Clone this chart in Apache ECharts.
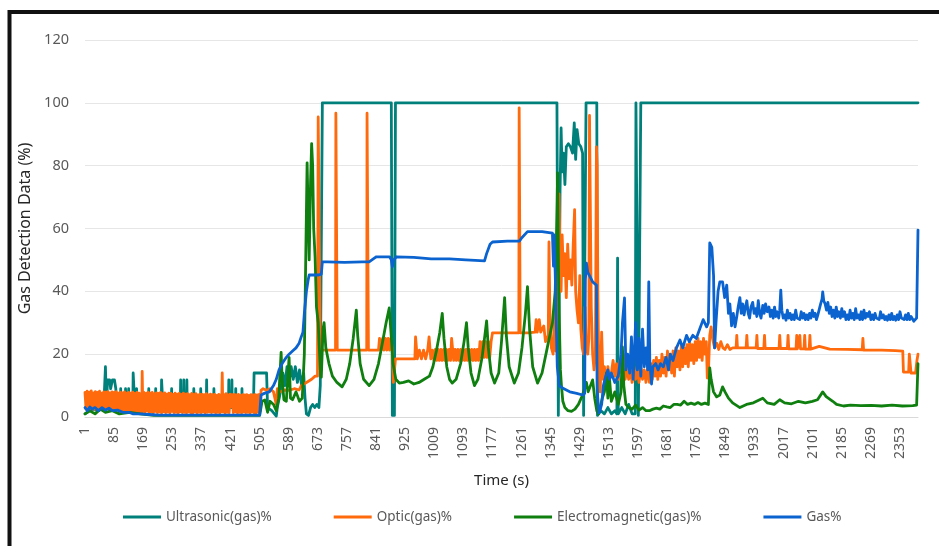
<!DOCTYPE html>
<html>
<head>
<meta charset="utf-8">
<script src="https://cdn.jsdelivr.net/npm/echarts@6/dist/echarts.min.js"></script>
<style>html,body{margin:0;padding:0;background:#fff}#chart{width:939px;height:546px}</style>
</head>
<body>
<div id="chart"></div>
<script>
const timeStart = 1;
const timeEnd = 2405;
const tickLabels = ['1','85','169','253','337','421','505','589','673','757','841','925','1009','1093','1177','1261','1345','1429','1513','1597','1681','1765','1849','1933','2017','2101','2185','2269','2353'];
const seriesNames = ['Ultrasonic(gas)%','Optic(gas)%','Electromagnetic(gas)%','Gas%'];

// [time (s), value %]
const ultrasonic = [
[1,1],[20,2.5],[40,2],[55,3],[59,3],[60,16],[62,16],[63,3],[65,3],[66,11.8],[72,11.8],[75,9],[80,11.8],[86,11.8],[90,9],[92,3],[103,3],[104,9],[105,3],[117,3],[118,9],[119,3],[126,3],[127,9],[128,3],[139,3],[140,14],[144,14],[145,3],[149,3],[150,9],[151,3],[184,3],[185,9],[186,3],[204,3],[205,9],[206,3],[221,3],[222,11.8],[225,11.8],[226,3],[250,3],[251,9],[252,3],[276,3],[277,11.8],[278,3],[285,3],[286,11.8],[287,3],[294,3],[295,11.8],[296,3],[314,3],[315,9],[316,3],[334,3],[335,9],[336,3],[351,3],[352,11.8],[353,3],[372,3],[373,9],[374,3],[415,3],[416,11.8],[417,3],[424,3],[425,11.8],[426,3],[435,3],[436,9],[437,3],[453,3],[454,9],[455,3],[470,2],[487,3],[489,14],[525,14],[528,3],[540,2],[553,0.3],[556,3],[565,8],[572,14],[578,10],[584,16],[590,11],[596,16],[602,12],[608,16],[614,11],[620,15],[626,10],[632,14],[636,6],[640,1],[646,0.5],[652,3],[658,4],[664,3],[670,4],[676,3],[680,10],[684,10],[686,100],
[885,100],[888,0.5],[894,0.5],[897,100],
[1363,100],[1365,100],[1367,0.5],[1370,0.5],[1372,72],[1375,92],[1378,78],[1382,84],[1386,74],[1390,86],[1396,87],[1402,86],[1408,84],[1413,93.6],[1417,82],[1421,91.5],[1426,87],[1432,86],[1437,84],[1440,0.5],[1444,0.5],[1447,100],[1478,100],[1480,0.5],
[1490,2],[1500,1],[1510,3],[1520,1],[1530,2],[1536,1],[1538,50.6],[1540,1],[1550,3],[1560,1],[1570,4],[1580,1],[1589,1],[1591,100],[1595,100],[1598,0.5],[1602,0.5],[1605,100],[2405,100]
];

const optic = [
[1,7.8],[4,2.5],[7,8.2],[10,3.0],[13,7.9],[16,2.2],[19,8.3],[22,2.8],[25,7.7],[28,2.4],[31,8.1],[34,3.1],[37,7.8],[40,2.3],[43,8.2],[46,2.9],[49,7.6],[52,2.5],[55,8.0],[58,2.2],[61,7.9],[64,2.7],[67,8.1],[70,2.4],[73,7.7],[76,2.0],[79,8.0],[82,2.6],[85,7.8],[88,1.9],[91,8.1],[94,2.3],[97,7.6],[100,1.8],[103,7.9],[106,2.2],[109,7.7],[112,1.7],[115,8.0],[118,2.0],[121,7.6],[124,1.6],[127,7.8],[130,1.8],[133,7.6],[136,1.5],[139,7.9],[142,1.9],[145,7.5],[148,1.6],[151,7.8],[154,1.4],[157,7.6],[160,1.7],[163,7.4],[165,1.6],[166,14.5],[168,1.8],[171,7.8],[174,1.5],[177,7.5],[180,1.9],[183,7.9],[186,1.4],[189,7.6],[192,1.7],[195,7.8],[198,1.3],[201,7.4],[204,1.8],[207,7.7],[210,1.4],[213,7.5],[216,1.6],[219,7.8],[222,1.3],[225,7.4],[228,1.7],[231,7.7],[234,1.4],[237,7.3],[240,1.6],[243,7.6],[246,1.3],[249,7.5],[252,1.8],[255,7.2],[258,1.4],[261,7.6],[264,1.5],[267,7.3],[270,1.3],[273,7.5],[276,1.7],[279,7.2],[282,1.4],[285,7.6],[288,1.5],[291,7.3],[294,1.3],[297,7.4],[300,1.6],[303,7.1],[306,1.4],[309,7.5],[312,1.3],[315,7.2],[318,1.6],[321,7.4],[324,1.3],[327,7.0],[330,1.5],[333,7.3],[336,1.4],[339,7.2],[342,1.6],[345,7.1],[348,1.3],[351,7.4],[354,1.5],[357,7.0],[360,1.6],[363,7.3],[366,1.4],[369,7.1],[372,1.6],[375,7.2],[378,1.3],[381,6.9],[384,1.5],[387,7.2],[390,1.3],[393,7.0],[395,1.6],[397,14.0],[399,1.6],[402,7.1],[405,1.3],[408,7.4],[411,1.5],[414,7.0],[417,1.4],[420,7.3],[423,3.2],[426,7.1],[429,1.4],[432,7.2],[435,1.6],[438,7.0],[441,1.3],[444,7.2],[447,1.5],[450,6.9],[453,1.3],[456,7.1],[459,1.6],[462,7.0],[465,1.4],[468,7.1],[471,1.5],[474,6.9],[477,1.3],[480,7.1],[483,1.6],[486,7.0],[489,1.4],[492,7.1],[495,1.3],[498,7.0],[501,1.6],[504,7.2],[507,2.0],
[509,8.5],[515,9],[525,8.5],[535,9],[545,8],[553,4],[556,9],[565,8],[575,8.6],[590,8.5],[605,9],[619,8.6],[625,10],[640,11],[655,12],[665,13],[672,13],[674,95.5],[677,95.5],[680,21.3],
[724,21.3],[725,96.7],[728,96.7],[729,21.3],[814,21.3],[815,96.7],[818,96.7],[819,21.3],
[848,21.3],[851,25],[856,21.3],[860,25],[864,21.3],[868,25],[872,21.3],[876,25],[880,21.3],[884,25],[888,21.3],[891,11],[894,11],[897,18.5],[930,18.5],[953,18.5],[955,25.5],[958,25.5],[960,18.5],[966,21.3],[972,18.5],[978,21.3],[984,18.5],[990,21.3],[994,25.5],[997,25.5],[999,18.5],[1004,21.3],[1008,18],[1012,21.5],[1016,18],[1020,21.5],[1024,18],[1028,21.5],[1032,18],[1036,21.5],[1040,18],[1044,21.5],[1048,18],[1052,21.5],[1056,18],[1059,25],[1063,25],[1065,18],[1069,21.5],[1073,18],[1077,21.5],[1081,18],[1085,21.5],[1089,18],[1093,21.5],[1097,18],[1101,21.5],[1105,18],[1109,21.5],[1113,18],[1117,21.5],[1121,18],[1125,21.5],[1129,18],[1133,21.5],[1137,18],[1141,24],[1145,19],[1149,24],[1153,19],[1157,24],[1161,19],[1165,24],[1169,19],[1173,24],[1177,26.8],[1200,26.8],[1230,26.8],[1253,26.8],[1254,98.4],[1256,98.4],[1257,26.8],[1280,26.8],[1300,27],[1303,31],[1306,27],[1312,31],[1316,27],[1325,29],[1330,24],[1338,26],
[1340,55.7],[1343,30],[1347,22],[1352,20],[1356,35],[1360,21],[1363,40],[1366,60],[1369,71],[1372,50],[1375,40],[1378,58],[1382,45],[1386,52],[1390,38],[1394,55],[1398,44],[1402,50],[1406,42],[1410,55],[1414,66],[1417,40],[1421,34],[1425,30],[1429,45],[1432,28],[1436,22],[1440,20],[1444,35],[1448,22],[1452,20],[1455,25],[1457,96],[1459,96],[1462,35],[1466,20],[1470,15],[1474,20],[1477,86],[1479,80],[1481,40],[1484,14],
[1488,8],[1492,27],[1496,12],[1500,16],[1505,10],[1510,16],[1515,12],[1520,14],[1525,18],[1530,13],[1535,17],[1540,12],[1545,18],[1550,14],[1555,20],[1560,12],[1565,16],[1570,12],[1575,15],[1580,11],[1585,16],[1590,12],[1595,15],[1600,11],[1605,16],[1610,12],[1615,15],[1620,11],[1625,16],[1630,11],
[1634,17],[1638,12],[1642,18],[1646,13],[1650,19],[1654,12],[1658,18],[1662,13],[1666,20],[1670,14],[1674,19],[1678,13],[1682,21],[1686,15],[1690,20],[1694,14],[1698,21],[1702,13],[1706,22],[1710,16],[1714,21],[1718,15],[1722,23],[1726,16],[1730,22],[1734,17],[1738,23],[1742,16],[1746,24],[1750,18],[1754,23],[1758,17],[1762,24],[1766,18],[1770,25],[1774,19],[1778,24],[1782,18],[1786,25],[1790,20],[1794,24],[1797,12.4],[1800,14],[1804,26],[1808,28.7],[1812,25],[1818,22],[1824,23.5],[1830,21.5],[1836,24],[1842,22],[1848,21.5],[1855,23],[1862,21.5],[1870,22],
[1880,22],[1882,26],[1884,22],[1909,22],[1911,26],[1913,22],[1938,22],[1940,26],[1942,21.8],[1960,21.8],[1962,26],[1964,21.8],[1985,21.8],[2004,21.8],[2006,26],[2008,21.8],[2028,21.8],[2030,26],[2032,21.7],[2053,21.7],[2055,26],[2057,21.7],[2062,21.7],[2064,26],[2066,21.7],[2076,21.7],[2078,26],[2080,21.6],[2091,21.6],[2093,26],[2095,21.6],[2120,22.5],[2150,21.6],[2200,21.5],[2244,21.4],[2246,25],[2248,21.3],[2300,21.3],[2340,21.1],[2361,21],
[2363,14.3],[2378,14.3],[2380,20],[2383,20],[2385,14],[2398,14],[2402,18],[2405,20]
];

const electromagnetic = [
[1,1],[15,2],[30,1],[45,2.5],[60,1.5],[80,2],[100,1],[130,1.5],[160,1],[200,0.5],[300,0.5],[400,0.5],[505,0.5],[509,1],
[512,5],[520,5.4],[528,1.5],[535,5],[545,4],[553,2],[560,6],[567,20.6],[570,12],[575,5.5],[582,5],[590,19],[594,6],[600,5.5],[610,8],[620,5],[628,6],[634,20],[638,50],[642,80.9],[646,60],[648,50],[652,75],[655,87],[658,80],[661,60],[665,51],[669,35],[674,30],[680,15],[683,12.7],[688,28],[691,30],[696,22],[705,17],[715,13],[728,11],[743,9.6],[755,12],[765,17],[775,25],[781,31],[784,34],[788,26],[795,17],[805,12],[821,10],[835,12],[848,17],[860,24],[870,30],[879,34.7],[884,27],[890,17],[898,12],[908,10.8],[920,11],[935,11.5],[950,10.5],[965,11],[980,12],[995,13],[1005,16],[1015,21],[1025,27],[1032,33],[1037,25],[1045,16],[1053,12],[1061,10.8],[1072,12],[1085,17],[1095,24],[1102,30],[1107,22],[1115,14],[1125,10],[1135,12],[1147,19],[1155,26],[1160,30.6],[1165,22],[1173,14],[1183,10.8],[1195,14],[1203,24],[1212,38],[1217,26],[1225,16],[1240,10.8],[1252,14],[1262,22],[1272,33],[1278,41.5],[1284,28],[1293,16],[1307,10.8],[1320,14],[1335,22],[1350,30],[1358,40],[1362,60],[1365,77.7],[1368,40],[1373,15],[1376,10],
[1380,5],[1386,3],[1395,2],[1405,1.8],[1415,2.5],[1425,4],[1435,6.5],[1443,9],[1448,11],[1453,8],[1460,10],[1466,11.8],[1472,6],[1478,2],[1483,1],[1488,1.2],[1494,6],[1500,8],[1506,14],[1510,6],[1515,11.8],[1520,5],[1530,8],[1540,4],[1548,8],[1552,22.3],[1556,10],[1562,4],[1570,3],[1580,2.5],[1590,3.8],[1600,2.2],[1610,3],[1620,2],[1630,2],[1640,2.5],[1650,2.8],[1660,2.5],[1670,3.5],[1680,3.2],[1690,3],[1700,4],[1710,4],[1720,3.8],[1730,5],[1740,4],[1750,4.4],[1760,4],[1770,4.6],[1780,4],[1790,4.4],[1800,4],[1804,15.6],[1808,12],[1815,8],[1824,6.4],[1833,7],[1841,9.6],[1848,8],[1858,6],[1870,4.5],[1891,3],[1910,4],[1930,4.5],[1957,6],[1970,4.5],[1990,4],[2006,5.5],[2020,4.5],[2040,4.2],[2060,5],[2080,4.5],[2100,5],[2115,5.5],[2130,8],[2140,6.5],[2159,5],[2170,4],[2190,3.5],[2210,3.8],[2240,3.6],[2270,3.7],[2300,3.5],[2330,3.8],[2360,3.5],[2390,3.6],[2401,3.8],[2405,17]
];

const gas = [
[1,3],[8,2],[15,3.2],[22,2.5],[30,3],[40,2],[50,3],[60,2.2],[70,2.8],[80,2],[95,2.2],[110,1.5],[128,1.5],[140,1],[160,1],[186,0.8],[215,0.6],[300,0.6],[400,0.6],[505,0.6],
[509,7],[520,7.6],[533,8],[545,10],[553,12],[561,15],[570,17],[582,19],[590,20],[600,21],[610,22],[619,23.5],[625,25.5],[630,27],[634,33],[640,40],[645,43.6],[648,45.2],[660,45.2],[675,45.2],[683,45.5],[686,49.4],[700,49.4],[750,49.2],[800,49.4],[821,49.4],[835,50.5],[842,51],[880,51],[885,50],[888,47.8],[892,50],[900,51],[950,50.8],[1000,50.3],[1053,50.3],[1100,50],[1154,49.7],[1160,52],[1170,55],[1177,55.7],[1220,56],[1255,56],[1261,57],[1278,59],[1320,59],[1350,58.5],[1353,48],[1355,58],[1358,46],[1361,30],[1364,16],[1370,10],[1379,9.2],[1400,8],[1420,7.5],[1437,7],[1443,7.5],[1445,43.6],[1448,49],[1452,46],[1457,45],[1466,43],[1477,42],[1479,8.7],[1484,1.3],[1487,2],[1492,4],[1497,10],[1503,12.7],[1510,15],[1515,12],[1520,14],[1530,11],[1540,13],[1548,20],[1552,30],[1558,37.9],[1562,15],[1567,20],[1573,14],[1578,25.5],[1583,12],[1590,30],[1595,15],[1600,25],[1605,13],[1610,28],[1615,16],[1620,22],[1625,15],[1628,43],[1631,18],[1636,10.5],[1640,16],[1648,17],[1655,15],[1662,17],[1670,16],[1678,19],[1685,15],[1690,20],[1698,18],[1708,22],[1718,24.5],[1726,22],[1737,26],[1745,24],[1755,26],[1765,25],[1775,28],[1785,31],[1795,28.7],[1800,30],[1804,55.4],[1810,54],[1815,45],[1818,22],[1822,30],[1828,40],[1833,43],[1841,43],[1847,38],[1853,42],[1858,33],[1862,36],[1867,29],[1872,33],[1877,28.7],
[1882,32],[1886,35],[1891,38],[1895,33],[1899,36],[1903,32.5],[1907,35],[1911,37],[1915,33],[1919,31.5],[1923,35],[1928,36.5],[1932,33],[1936,34.5],[1940,32],[1944,37],[1948,33],[1952,31.5],[1957,35.5],[1961,33],[1965,36],[1970,33.5],[1975,35],[1979,32],[1983,34],[1987,31.5],[1991,35],[1995,32],[1999,33.5],[2003,31.5],[2006,34],[2009,40.4],[2012,34],[2016,31.5],[2020,32.5],[2024,30.8],[2028,34],[2032,31.5],[2036,33],[2040,31],[2044,32.5],[2048,31],[2052,34],[2056,31.5],[2060,32],[2064,31],[2068,33.5],[2072,31.5],[2076,33],[2080,31],[2084,32.5],[2088,31],[2092,33],[2096,31.5],[2100,34],[2104,32],[2108,33],[2112,31],[2116,32.5],[2120,33],[2124,36],[2128,37.5],[2130,39.8],[2133,37],[2137,36],[2141,34],[2145,36.5],[2149,33],[2153,35],[2157,32],[2161,34],[2165,31.5],[2169,35],[2173,32],[2177,33.5],[2181,31.5],[2185,34.5],[2189,32],[2193,33.5],[2197,31],[2201,32.5],[2205,31],[2209,34],[2213,31.5],[2217,33],[2221,31],[2225,34.5],[2229,31.5],[2233,32.5],[2237,31],[2241,33.5],[2245,31],[2249,34],[2253,31.5],[2257,33],[2261,32],[2265,33.5],[2269,31],[2273,32.5],[2277,31],[2281,33],[2285,31.5],[2289,32],[2293,31],[2297,33.5],[2301,31.5],[2305,32.5],[2309,31],[2313,32],[2317,30.8],[2321,32.5],[2325,31],[2329,33],[2333,31],[2337,32],[2341,30.8],[2345,32.5],[2349,31],[2353,33.5],[2357,31.5],[2361,32],[2365,31],[2369,32.5],[2373,31],[2377,33],[2381,31],[2385,32],[2389,31.5],[2393,30.5],[2397,31],[2401,31.5],[2403,31],[2405,59.5]
];

const colors = ['#00807a','#ff6a0d','#0f7f10','#0b63cf'];

const categories = [];
for (let t = timeStart; t <= timeEnd; t++) categories.push(String(t));
const tickSet = new Set(tickLabels);
const toIdx = arr => arr.map(p => [p[0] - timeStart, p[1]]);

const chart = echarts.init(document.getElementById('chart'), null, {renderer: 'canvas'});
const font = '"Noto Sans", "Liberation Sans", sans-serif';
const dataSets = [ultrasonic, optic, electromagnetic, gas];

chart.setOption({
  animation: false,
  backgroundColor: '#fff',
  textStyle: {fontFamily: font},
  graphic: [{
    type: 'rect', silent: true, z: 100,
    shape: {x: 9.5, y: 12, width: 1100, height: 700},
    style: {fill: 'none', stroke: '#111', lineWidth: 4}
  }],
  grid: {left: 85, right: 21, top: 40, bottom: 129, containLabel: false},
  legend: {
    data: seriesNames,
    top: 505,
    left: 118,
    icon: 'rect',
    itemWidth: 38,
    itemHeight: 3,
    itemGap: 62,
    textStyle: {color: '#595959', fontSize: 13.5, fontFamily: font}
  },
  xAxis: {
    type: 'category',
    data: categories,
    boundaryGap: false,
    name: 'Time (s)',
    nameLocation: 'middle',
    nameGap: 56,
    nameTextStyle: {color: '#262626', fontSize: 15, fontFamily: font},
    axisLine: {show: true, lineStyle: {color: '#d9d9d9'}},
    axisTick: {show: false},
    axisLabel: {
      interval: (i, v) => tickSet.has(v),
      rotate: 90,
      margin: 10,
      color: '#595959',
      fontSize: 14,
      fontFamily: font
    },
    splitLine: {show: false}
  },
  yAxis: {
    type: 'value',
    min: 0, max: 120, interval: 20,
    name: 'Gas Detection Data (%)',
    nameLocation: 'middle',
    nameGap: 48,
    nameRotate: 90,
    nameTextStyle: {color: '#262626', fontSize: 16, fontFamily: font},
    axisLine: {show: false},
    axisTick: {show: false},
    axisLabel: {color: '#595959', fontSize: 14.5, margin: 16, fontFamily: font},
    splitLine: {lineStyle: {color: '#e6e6e6', width: 1}}
  },
  series: seriesNames.map((name, i) => ({
    name,
    type: 'line',
    data: toIdx(dataSets[i]),
    showSymbol: false,
    symbol: 'none',
    color: colors[i],
    lineStyle: {color: colors[i], width: 2.8, join: 'round', cap: 'round'},
    z: 2 + i
  }))
});
</script>
</body>
</html>
